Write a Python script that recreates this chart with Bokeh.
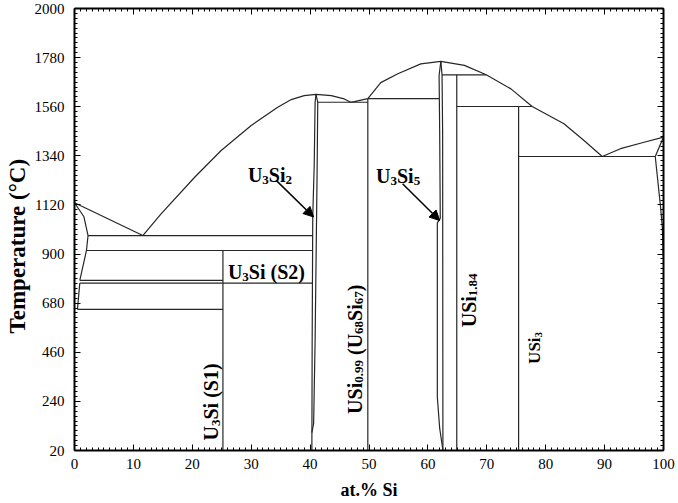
import math
from bokeh.plotting import figure
from bokeh.models import (Range1d, LinearAxis, FixedTicker, ColumnDataSource,
                          Arrow, NormalHead, Title, CustomLabelingPolicy)
from bokeh.core.properties import value
from bokeh.embed import file_html
from bokeh.resources import INLINE

# ---------------- data ----------------
x_ticks = [0, 10, 20, 30, 40, 50, 60, 70, 80, 90, 100]
y_ticks = [20, 240, 460, 680, 900, 1120, 1340, 1560, 1780, 2000]

# liquidus branches (at.% Si, temperature degC)
liq_u_x = [0.0, 11.6]
liq_u_t = [1130, 983]
liq_a_x = [11.6, 14.7, 20.4, 24.9, 30.0, 34.5, 36.8, 39.0, 41.0, 43.6, 45.8, 46.9, 47.5, 49.8]
liq_a_t = [983, 1080, 1244, 1364, 1476, 1558, 1592, 1610, 1615, 1610, 1595, 1580, 1583, 1596]
liq_b_x = [49.8, 52.0, 54.9, 58.8, 62.2, 66.2, 69.9, 74.1, 77.7, 83.1, 86.5, 89.6]
liq_b_t = [1596, 1668, 1708, 1752, 1763, 1745, 1703, 1640, 1561, 1484, 1409, 1337]
liq_si_x = [89.6, 92.7, 96.7, 100.0]
liq_si_t = [1337, 1372, 1401, 1424]

# single-phase boundaries
gam_sol_x = [0.0, 1.6, 2.3]
gam_sol_t = [1130, 1067, 983]
gam_solv_x = [2.3, 2.03, 0.9]
gam_solv_t = [983, 916, 782]
beta_x = [0.9, 0.5]
beta_t = [770, 652]
u3si2_l_x = [41.0, 40.85, 40.7, 40.45, 40.35, 40.3]
u3si2_l_t = [1615, 1580, 1300, 1066, 500, 20]
u3si2_r_x = [41.0, 41.3, 41.2, 41.1, 40.85, 40.6, 40.3]
u3si2_r_t = [1615, 1580, 1300, 1066, 513, 140, 100]
u3si5_l_x = [62.2, 61.9, 62.0, 62.1, 61.6, 61.6, 62.0, 62.55]
u3si5_l_t = [1763, 1700, 1454, 1060, 1040, 260, 120, 20]
u3si5_r_x = [62.2, 62.4, 62.5, 62.55]
u3si5_r_t = [1763, 1703, 1454, 20]
si_sol_x = [98.6, 100.0]
si_sol_t = [1337, 1424]
si_solv_x = [98.6, 99.5, 99.8, 99.95]
si_solv_t = [1337, 1111, 1020, 890]

# invariant (horizontal) reactions
iso_t = [983, 916, 782, 770, 652, 1580, 1596, 1703, 1561, 1337]
iso_x0 = [2.3, 2.0, 0.9, 0.9, 0.5, 41.3, 49.8, 62.4, 64.9, 75.4]
iso_x1 = [40.4, 40.4, 25.2, 40.4, 25.2, 49.8, 61.9, 69.9, 77.7, 98.6]

# line compounds (vertical)
cmp_x = [25.2, 49.8, 64.9, 75.4]
cmp_t_top = [916, 1596, 1703, 1561]
cmp_t_bot = [20, 20, 20, 20]

# ---------------- figure ----------------
FONT = "Liberation Serif"
LC = "#262626"

p = figure(width=678, height=503, x_range=Range1d(0, 100), y_range=Range1d(20, 2000),
           output_backend="svg", toolbar_location=None,
           min_border_left=73, min_border_right=15, min_border_top=8, min_border_bottom=53)
p.xgrid.visible = False
p.ygrid.visible = False
p.outline_line_color = "black"
p.outline_line_width = 1
p.background_fill_color = "white"
p.border_fill_color = "white"

x_minor = list(range(0, 101))
y_minor = list(range(20, 2001, 22))

hide_all = CustomLabelingPolicy(code="""
for (const i of indices) { indices.unset(i) }
return indices
""")


def style_axis(ax, ticker, labels=True):
    ax.ticker = ticker
    ax.axis_line_color = "black"
    ax.axis_line_width = 2
    ax.major_tick_in = 6
    ax.major_tick_out = 0
    ax.minor_tick_in = 3
    ax.minor_tick_out = 0
    ax.major_tick_line_color = "black"
    ax.minor_tick_line_color = "black"
    ax.major_tick_line_width = 1
    ax.minor_tick_line_width = 1
    if labels:
        ax.major_label_text_font = FONT
        ax.major_label_text_font_size = "15px"
        ax.major_label_text_color = "black"
    else:
        ax.major_label_policy = hide_all
        ax.major_label_text_font_size = "0px"
        ax.major_label_standoff = 0


xt = FixedTicker(ticks=x_ticks, minor_ticks=x_minor)
yt = FixedTicker(ticks=y_ticks, minor_ticks=y_minor)

style_axis(p.xaxis[0], xt)
p.xaxis[0].major_label_standoff = 8
p.xaxis[0].axis_label = "at.% Si"
p.xaxis[0].axis_label_text_font = FONT
p.xaxis[0].axis_label_text_font_style = "bold"
p.xaxis[0].axis_label_text_font_size = "18px"
p.xaxis[0].axis_label_text_color = "black"
p.xaxis[0].axis_label_standoff = 8

style_axis(p.yaxis[0], yt)
p.yaxis[0].major_label_standoff = 10

top_ax = LinearAxis()
style_axis(top_ax, FixedTicker(ticks=x_ticks, minor_ticks=x_minor), labels=False)
p.add_layout(top_ax, "above")
right_ax = LinearAxis()
style_axis(right_ax, FixedTicker(ticks=y_ticks, minor_ticks=y_minor), labels=False)
p.add_layout(right_ax, "right")

ytitle = Title(text="Temperature (°C)", align="left", offset=117,
               text_font=FONT, text_font_style="bold", text_font_size="23px",
               text_color="black", standoff=4)
p.add_layout(ytitle, "left")

# curves
curves_x = [liq_u_x, liq_a_x, liq_b_x, liq_si_x, gam_sol_x, gam_solv_x, beta_x,
            u3si2_l_x, u3si2_r_x, u3si5_l_x, u3si5_r_x, si_sol_x, si_solv_x]
curves_t = [liq_u_t, liq_a_t, liq_b_t, liq_si_t, gam_sol_t, gam_solv_t, beta_t,
            u3si2_l_t, u3si2_r_t, u3si5_l_t, u3si5_r_t, si_sol_t, si_solv_t]
p.multi_line(xs=curves_x, ys=curves_t, line_color=LC, line_width=1.2)

p.segment(x0=iso_x0, y0=iso_t, x1=iso_x1, y1=iso_t, line_color=LC, line_width=1.2)
p.segment(x0=cmp_x, y0=cmp_t_bot, x1=cmp_x, y1=cmp_t_top, line_color=LC, line_width=1.2)

# arrows
for xs, ys, xe, ye in [(34.24, 1230, 40.6, 1066), (55.7, 1215, 62.0, 1050)]:
    p.add_layout(Arrow(end=NormalHead(size=10, fill_color="black", line_color="black", line_width=1),
                       x_start=xs, y_start=ys, x_end=xe, y_end=ye,
                       line_color="black", line_width=1.5))

# phase labels with subscripts
W = {'U': 0.722, 'S': 0.556, 'i': 0.278, '.': 0.25, ' ': 0.25, '(': 0.333, ')': 0.333}
for d in "0123456789":
    W[d] = 0.5

labels = [
    (29.44, 1252, [("U", 0), ("3", 1), ("Si", 0), ("2", 1)], 20, 0.0),
    (51.19, 1248, [("U", 0), ("3", 1), ("Si", 0), ("5", 1)], 20, 0.0),
    (26.05, 819, [("U", 0), ("3", 1), ("Si (S2)", 0)], 20, 0.0),
    (23.2, 65, [("U", 0), ("3", 1), ("Si (S1)", 0)], 20, math.pi / 2),
    (47.6, 184, [("USi", 0), ("0.99", 1), (" (U", 0), ("68", 1), ("Si", 0), ("67", 1), (")", 0)], 20, math.pi / 2),
    (66.9, 572, [("USi", 0), ("1.84", 1)], 20, math.pi / 2),
    (78.1, 408, [("USi", 0), ("3", 1)], 17, math.pi / 2),
]

rows = dict(x=[], y=[], text=[], xo=[], yo=[], angle=[], fs=[])
for x, y, parts, size, ang in labels:
    sub = round(size * 0.65)
    shift = size * 0.22
    adv = 0.0
    for s, is_sub in parts:
        fs = sub if is_sub else size
        lead = len(s) - len(s.lstrip(" "))
        adv += lead * W[' '] * fs
        s = s.lstrip(" ")
        dy = shift if is_sub else 0.0
        if ang == 0.0:
            xo, yo = adv, dy
        else:
            xo, yo = dy, -adv
        rows["x"].append(x)
        rows["y"].append(y)
        rows["text"].append(s)
        rows["xo"].append(xo)
        rows["yo"].append(yo)
        rows["angle"].append(ang)
        rows["fs"].append(f"{fs}px")
        adv += sum(W[c] for c in s) * fs

src = ColumnDataSource(rows)
p.text(x="x", y="y", text="text", x_offset="xo", y_offset="yo", angle="angle",
       text_font_size="fs", text_font=value(FONT), text_font_style="bold",
       text_color="black", text_align="left", text_baseline="alphabetic", source=src)

open("out.html", "w").write(file_html(p, INLINE))
